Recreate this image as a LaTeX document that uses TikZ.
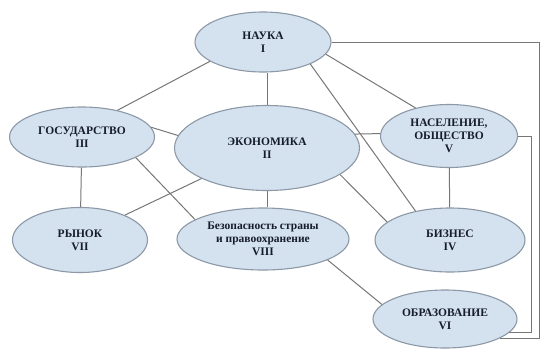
\documentclass[tikz,border=0pt]{standalone}
\usepackage{fontspec}
\setmainfont{Liberation Serif}
\usetikzlibrary{shapes.geometric}

\definecolor{cellfill}{RGB}{212,226,240}
\definecolor{celldraw}{RGB}{140,152,166}
\definecolor{linkgray}{RGB}{118,118,118}
\definecolor{celltext}{RGB}{22,28,44}

\begin{document}
\begin{tikzpicture}[
  x=1pt, y=-1pt,
  every node/.style={
    ellipse,
    draw=celldraw,
    fill=cellfill,
    line width=1.1pt,
    inner sep=0pt,
    align=center,
    text=celltext,
    font=\fontsize{11.5}{13}\selectfont\bfseries,
  },
  link/.style={draw=linkgray, line width=1pt},
  ]
  \useasboundingbox (0,0) rectangle (541,349);

  \node[minimum width=136pt, minimum height=60pt] (nauka)  at (263,42)  {НАУКА\\I};
  \node[minimum width=145pt, minimum height=60pt] (gos)    at (82,137)  {ГОСУДАРСТВО\\III};
  \node[minimum width=185pt, minimum height=85pt] (econ)   at (267,148) {ЭКОНОМИКА\\II};
  \node[minimum width=137pt, minimum height=63pt] (nasel)  at (449,136) {НАСЕЛЕНИЕ,\\ОБЩЕСТВО\\V};
  \node[minimum width=135pt, minimum height=65pt] (rynok)  at (80,240)  {РЫНОК\\VII};
  \node[minimum width=172pt, minimum height=62pt] (bezop)  at (263,239) {Безопасность страны\\и правоохранение\\VIII};
  \node[minimum width=150pt, minimum height=64pt] (biznes) at (450,240) {БИЗНЕС\\IV};
  \node[minimum width=144pt, minimum height=58pt] (obraz)  at (445,319) {ОБРАЗОВАНИЕ\\VI};

  \coordinate (rightout) at (539,0);
  \coordinate (rightin)  at (531,0);

  % links
  \draw[link] (nauka.200) -- (gos.37);
  \draw[link] (econ.north) -- (econ.north |- nauka.south);
  \draw[link] (nauka.-11) -- (nasel.140);
  \draw[link] (nauka.-25) -- (biznes.140);
  \draw[link] (nauka.east) -| (rightout |- obraz.-19) -- (obraz.-19);
  \draw[link] (nasel.east) -| (rightin |- obraz.-12) -- (obraz.-12);
  \draw[link] (econ.9) -- (nasel.178);
  \draw[link] (nasel) -- (biznes);
  \draw[link] (gos.8) -- (econ.172);
  \draw[link] (gos) -- (rynok);
  \draw[link] (gos.-21) -- (bezop.164);
  \draw[link] (econ.205) -- (rynok.29);
  \draw[link] (econ.south) -- (econ.south |- bezop.north);
  \draw[link] (econ.-20) -- (biznes.164);
  \draw[link] (bezop.-18) -- (obraz.167);
\end{tikzpicture}
\end{document}
